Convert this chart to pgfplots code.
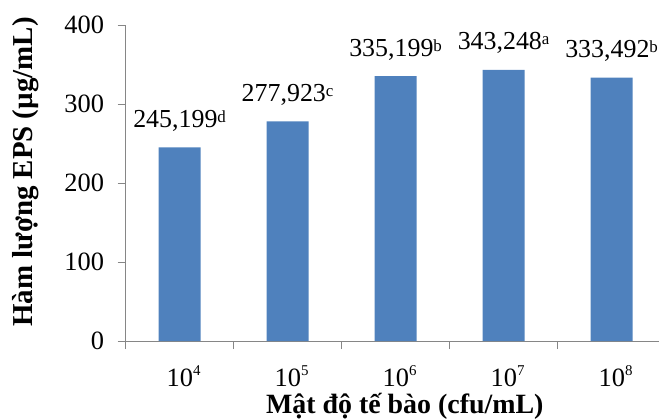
\documentclass[border=0pt]{standalone}
\usepackage{fontspec}
\setmainfont{Liberation Serif}
\usepackage{pgfplots}
\pgfplotsset{compat=1.18}
\definecolor{barblue}{HTML}{4F81BD}
\definecolor{axgray}{HTML}{868686}
\newcommand\sups[1]{\raisebox{5bp}{\fontsize{17}{20}\selectfont #1}}
\newcommand\expo[1]{10\raisebox{11bp}{\fontsize{15}{18}\selectfont #1}}
\begin{document}
\begin{tikzpicture}
\path[use as bounding box] (-125.6bp,-78bp) rectangle (533.4bp,341bp);
\clip (-125.6bp,-78bp) rectangle (533.4bp,341bp);
\begin{axis}[
  at={(0,0)}, anchor=south west,
  scale only axis, width=540bp, height=316bp,
  xmin=-0.5, xmax=4.5, ymin=0, ymax=400,
  axis x line*=bottom, axis y line*=left,
  axis line style={draw=axgray, line width=0.8bp, -},
  tick align=outside, major tick length=8bp,
  tick style={draw=axgray, line width=0.8bp},
  xtick={-0.5,0.5,1.5,2.5,3.5,4.5},
  x tick label as interval,
  xticklabels={\expo{4},\expo{5},\expo{6},\expo{7},\expo{8}},
  ytick={0,100,200,300,400},
  /pgf/number format/assume math mode=true,
  ticklabel style={font=\fontsize{26.5}{30}\selectfont},
  yticklabel style={xshift=-10bp},
  xticklabel style={anchor=base, yshift=-37.7bp, xshift=4bp},
  ylabel={\textbf{Hàm lượng EPS (µg/mL)}},
  xlabel={\textbf{Mật độ tế bào (cfu/mL)}},
  xlabel style={font=\fontsize{28}{30}\selectfont, at={(axis description cs:0.517,-0.231)}, anchor=base},
  ylabel style={font=\fontsize{29}{30}\selectfont, at={(axis description cs:-0.1715,0.535)}, anchor=base, rotate=0},
  clip=false,
]
\addplot[ybar, bar width=42bp, fill=barblue, draw=none,
  point meta=explicit symbolic,
  nodes near coords,
  nodes near coords style={anchor=base, yshift=20bp, font=\fontsize{26}{30}\selectfont, text=black}]
  coordinates {
  (0,245.199) [{245,199\sups{d}}]
  (1,277.923) [{277,923\sups{c}}]
  (2,335.199) [{335,199\sups{b}}]
  (3,343.248) [{343,248\sups{a}}]
  (4,333.492) [{333,492\sups{b}}]
  };
\end{axis}
\end{tikzpicture}
\end{document}
